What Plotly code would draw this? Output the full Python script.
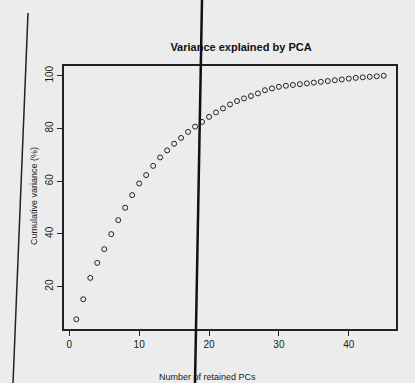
import plotly.graph_objects as go

# Data
n_pcs = list(range(1, 46))
cum_var = [7.6, 15.2, 23.3, 29.0, 34.2, 39.9, 45.2, 49.9, 54.7, 59.1,
           62.3, 65.8, 69.0, 71.7, 74.2, 76.4, 78.7, 80.7, 82.5, 84.4,
           86.1, 87.6, 89.1, 90.4, 91.4, 92.3, 93.3, 94.5, 95.2, 95.8,
           96.2, 96.5, 96.8, 97.1, 97.4, 97.7, 98.0, 98.3, 98.6, 98.9,
           99.2, 99.4, 99.6, 99.8, 100.0]
x_ticks = [0, 10, 20, 30, 40]
y_ticks = [20, 40, 60, 80, 100]

W, H = 415, 383
L, R, T, B = 64, 19, 66, 54

def px(x):
    return (x - L) / (W - L - R)

def py(y):
    return (H - B - y) / (H - T - B)

fig = go.Figure()
fig.add_trace(go.Scatter(
    x=n_pcs, y=cum_var, mode="markers",
    marker=dict(symbol="circle-open", size=5, color="#222222",
                line=dict(width=1, color="#222222")),
    showlegend=False, hoverinfo="skip"))

font = "Liberation Sans, Arial, sans-serif"
fig.update_layout(
    width=W, height=H,
    margin=dict(l=L, r=R, t=T, b=B),
    paper_bgcolor="#ececec", plot_bgcolor="#ececec",
    font=dict(family=font, color="#1a1a1a", size=10),
    title=dict(text="<b>Variance explained by PCA</b>", x=px(241), xanchor="center",
               xref="paper", y=1 - 47 / H, yanchor="middle",
               font=dict(size=11, family=font, color="#111")),
    xaxis=dict(range=[-0.76, 46.76], tickvals=x_ticks, showgrid=False,
               zeroline=False, showline=True, mirror=True, linecolor="#222",
               linewidth=1.5, ticks="outside", ticklen=5, tickcolor="#222",
               tickfont=dict(size=10, color="#1a1a1a")),
    yaxis=dict(range=[3.9, 103.7], tickvals=y_ticks, showgrid=False,
               zeroline=False, showline=True, mirror=True, linecolor="#222",
               linewidth=1.5, ticks="outside", ticklen=5, tickcolor="#222",
               tickangle=-90, tickfont=dict(size=10, color="#1a1a1a")),
)

# axis titles placed where the page shows them
fig.add_annotation(text="Number of retained PCs", xref="paper", yref="paper",
                   x=px(207), y=py(377), xanchor="center", yanchor="middle",
                   showarrow=False, font=dict(size=9, color="#1a1a1a"))
fig.add_annotation(text="Cumulative variance (%)", xref="paper", yref="paper",
                   x=px(34), y=py(196), xanchor="center", yanchor="middle",
                   textangle=-90, showarrow=False,
                   font=dict(size=9, color="#1a1a1a"))

# scan artifacts: dark fold lines on the photocopied page
fig.add_shape(type="line", xref="paper", yref="paper",
              x0=px(202), y0=py(0), x1=px(195), y1=py(383),
              line=dict(color="#111", width=2.5))
fig.add_shape(type="line", xref="paper", yref="paper",
              x0=px(28), y0=py(13), x1=px(13), y1=py(383),
              line=dict(color="#222", width=1.5))

fig.write_html(
    "out.html",
    config={"displayModeBar": False},
    post_script="document.body.style.margin='0';"
                "document.body.style.overflow='hidden';"
                "document.body.style.background='#ececec';")
